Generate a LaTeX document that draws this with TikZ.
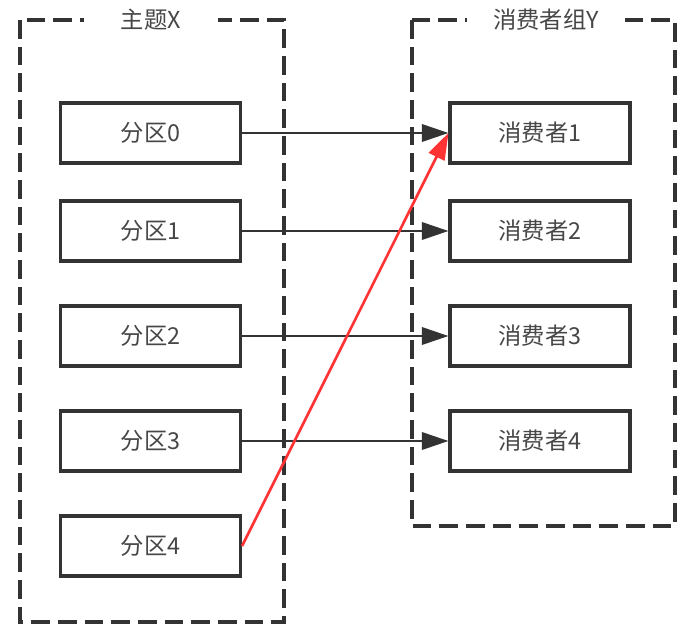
\documentclass[tikz,border=0pt]{standalone}
\usepackage{fontspec}
\newfontfamily\cjk{Noto Sans CJK SC}
\usetikzlibrary{arrows.meta}
\definecolor{ln}{HTML}{333333}
\definecolor{rd}{HTML}{FF3333}
\begin{document}
\begin{tikzpicture}[x=0.75pt,y=-0.75pt,
  box/.style={draw=ln,line width=2.3pt,minimum width=180*0.75pt,minimum height=60*0.75pt,inner sep=0pt,font=\cjk\fontsize{17.5pt}{20pt}\selectfont,text=ln!90},
  grp/.style={draw=ln,line width=2.4pt,dash pattern=on 14pt off 6pt},
  ttl/.style={fill=white,inner xsep=0pt,inner ysep=1pt,font=\cjk\fontsize{17.5pt}{20pt}\selectfont,text=ln!90},
  conn/.style={draw=ln,line width=2pt,-{Triangle[length=20pt,width=13pt]}},
  redconn/.style={draw=rd,line width=2pt,-{Triangle[length=20pt,width=13pt]}}]
\useasboundingbox (0,0) rectangle (692,636);
\fill[white] (0,0) rectangle (692,636);
\draw[grp] (20,20) rectangle (284,622);
\draw[grp] (412,20) rectangle (675,526);
\node[ttl,minimum width=101pt] (tx) at (151,20) {主题X};
\node[ttl,minimum width=118pt] (ty) at (546,20) {消费者组Y};
\node[box] (p0) at (150.5,133) {分区0};
\node[box] (p1) at (150.5,231) {分区1};
\node[box] (p2) at (150.5,336) {分区2};
\node[box] (p3) at (150.5,441) {分区3};
\node[box] (p4) at (150.5,546) {分区4};
\node[box] (c1) at (540,133) {消费者1};
\node[box] (c2) at (540,231) {消费者2};
\node[box] (c3) at (540,336) {消费者3};
\node[box] (c4) at (540,441) {消费者4};
\draw[conn] (p0) -- (c1);
\draw[conn] (p1) -- (c2);
\draw[conn] (p2) -- (c3);
\draw[conn] (p3) -- (c4);
\draw[redconn] (p4.east) -- (c1.west);
\end{tikzpicture}
\end{document}
